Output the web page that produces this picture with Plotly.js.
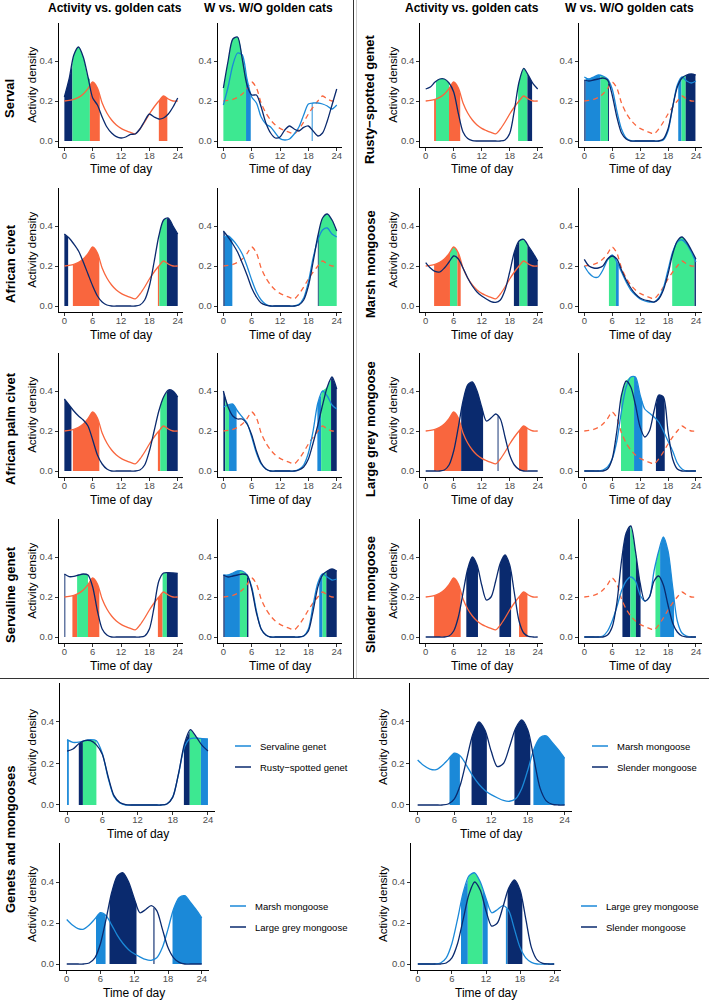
<!DOCTYPE html>
<html>
<head>
<meta charset="utf-8">
<script src="https://cdn.plot.ly/plotly-3.0.1.min.js"></script>
<style>
  body { margin: 0; background: #fff; }
  #chart { width: 709px; height: 1000px; }
</style>
</head>
<body>
<div id="chart"></div>
<script>
// Hour of day for every density value below
const hours = [0, 1, 2, 3, 4, 5, 6, 7, 8, 9, 10, 11, 12, 13, 14, 15, 16, 17, 18, 19, 20, 21, 22, 23, 24];
const xTicks = [0, 6, 12, 18, 24];
const yTicks = [0, 0.2, 0.4];
const yTickText = ['0.0', '0.2', '0.4'];

// Golden cat activity (orange curve, same in every panel)
const goldenCat = [0.200, 0.203, 0.208, 0.218, 0.235, 0.262, 0.295, 0.265, 0.19, 0.14, 0.105, 0.08, 0.063, 0.052, 0.043, 0.036, 0.06, 0.095, 0.135, 0.17, 0.2, 0.225, 0.21, 0.2, 0.2];

// Each species: overall activity, with golden cats (W), without golden cats (W/O)
const servalAll = [0.22, 0.31, 0.43, 0.47, 0.42, 0.32, 0.215, 0.18, 0.12, 0.07, 0.04, 0.022, 0.015, 0.02, 0.033, 0.035, 0.06, 0.1, 0.135, 0.12, 0.11, 0.115, 0.135, 0.17, 0.215];
const servalW = [0.265, 0.4, 0.51, 0.52, 0.41, 0.28, 0.23, 0.23, 0.17, 0.09, 0.04, 0.015, 0.02, 0.055, 0.075, 0.06, 0.05, 0.068, 0.075, 0.05, 0.025, 0.04, 0.1, 0.18, 0.26];
const servalWO = [0.18, 0.27, 0.38, 0.44, 0.43, 0.31, 0.22, 0.19, 0.12, 0.085, 0.07, 0.04, 0.012, 0.005, 0.01, 0.035, 0.07, 0.13, 0.185, 0.19, 0.19, 0.185, 0.175, 0.16, 0.18];

const civetAll = [0.36, 0.34, 0.31, 0.275, 0.22, 0.16, 0.1, 0.05, 0.02, 0.005, 0, 0, 0, 0, 0, 0, 0.005, 0.03, 0.1, 0.22, 0.35, 0.43, 0.44, 0.4, 0.36];
const civetW = [0.375, 0.345, 0.31, 0.27, 0.215, 0.155, 0.09, 0.045, 0.015, 0.004, 0, 0, 0, 0, 0, 0, 0.005, 0.03, 0.1, 0.22, 0.35, 0.44, 0.46, 0.43, 0.375];
const civetWO = [0.345, 0.35, 0.33, 0.3, 0.26, 0.2, 0.13, 0.07, 0.03, 0.008, 0, 0, 0, 0, 0, 0, 0.008, 0.04, 0.12, 0.24, 0.33, 0.38, 0.39, 0.36, 0.345];

const palmAll = [0.36, 0.33, 0.3, 0.275, 0.255, 0.225, 0.155, 0.08, 0.035, 0.01, 0, 0, 0, 0, 0, 0, 0.005, 0.03, 0.1, 0.2, 0.3, 0.37, 0.405, 0.4, 0.37];
const palmW = [0.4, 0.32, 0.275, 0.26, 0.26, 0.235, 0.18, 0.1, 0.04, 0.01, 0, 0, 0, 0, 0, 0, 0.005, 0.02, 0.06, 0.14, 0.23, 0.33, 0.42, 0.47, 0.41];
const palmWO = [0.32, 0.33, 0.335, 0.3, 0.27, 0.24, 0.17, 0.09, 0.035, 0.01, 0, 0, 0, 0, 0, 0, 0.008, 0.03, 0.09, 0.2, 0.34, 0.4, 0.375, 0.33, 0.31];

const servalineAll = [0.315, 0.302, 0.303, 0.31, 0.315, 0.31, 0.25, 0.13, 0.04, 0.01, 0, 0, 0, 0, 0, 0, 0, 0.005, 0.04, 0.15, 0.28, 0.32, 0.322, 0.32, 0.318];
const servalineW = [0.31, 0.3, 0.305, 0.31, 0.315, 0.31, 0.24, 0.12, 0.04, 0.01, 0, 0, 0, 0, 0, 0, 0, 0.005, 0.03, 0.13, 0.25, 0.31, 0.33, 0.34, 0.33];
const servalineWO = [0.31, 0.31, 0.32, 0.33, 0.33, 0.31, 0.25, 0.13, 0.04, 0.01, 0, 0, 0, 0, 0, 0, 0, 0.005, 0.04, 0.16, 0.27, 0.315, 0.3, 0.285, 0.29];

const rustyAll = [0.26, 0.27, 0.295, 0.31, 0.31, 0.29, 0.245, 0.137, 0.045, 0.012, 0.002, 0, 0, 0, 0, 0, 0, 0.005, 0.037, 0.153, 0.295, 0.363, 0.328, 0.287, 0.26];
const rustyW = [0.305, 0.3, 0.305, 0.31, 0.315, 0.305, 0.23, 0.12, 0.04, 0.01, 0, 0, 0, 0, 0, 0, 0, 0.01, 0.06, 0.17, 0.27, 0.315, 0.33, 0.335, 0.33];
const rustyWO = [0.32, 0.31, 0.32, 0.33, 0.325, 0.31, 0.26, 0.15, 0.06, 0.015, 0.002, 0, 0, 0, 0, 0, 0, 0.005, 0.05, 0.17, 0.28, 0.32, 0.3, 0.29, 0.3];

const marshAll = [0.217, 0.19, 0.173, 0.17, 0.19, 0.22, 0.25, 0.235, 0.19, 0.14, 0.1, 0.07, 0.05, 0.035, 0.022, 0.018, 0.03, 0.08, 0.17, 0.27, 0.325, 0.333, 0.3, 0.265, 0.225];
const marshW = [0.233, 0.2, 0.19, 0.19, 0.2, 0.235, 0.25, 0.235, 0.18, 0.13, 0.09, 0.06, 0.04, 0.03, 0.025, 0.02, 0.035, 0.08, 0.16, 0.26, 0.325, 0.345, 0.32, 0.28, 0.235];
const marshWO = [0.2, 0.165, 0.145, 0.145, 0.18, 0.23, 0.255, 0.22, 0.17, 0.12, 0.08, 0.055, 0.035, 0.025, 0.02, 0.02, 0.04, 0.09, 0.18, 0.27, 0.32, 0.33, 0.31, 0.27, 0.22];

const largeGreyAll = [0, 0, 0, 0, 0.005, 0.03, 0.1, 0.22, 0.35, 0.43, 0.445, 0.4, 0.32, 0.25, 0.265, 0.285, 0.26, 0.17, 0.08, 0.03, 0.008, 0, 0, 0, 0];
const largeGreyW = [0, 0, 0, 0, 0, 0.01, 0.06, 0.2, 0.38, 0.45, 0.42, 0.33, 0.22, 0.17, 0.2, 0.3, 0.38, 0.37, 0.2, 0.06, 0.01, 0, 0, 0, 0];
const largeGreyWO = [0, 0, 0, 0, 0.005, 0.02, 0.06, 0.15, 0.3, 0.42, 0.47, 0.47, 0.38, 0.31, 0.29, 0.27, 0.245, 0.2, 0.15, 0.1, 0.04, 0.01, 0, 0, 0];

const slenderAll = [0, 0, 0, 0, 0, 0.005, 0.03, 0.1, 0.22, 0.34, 0.4, 0.36, 0.26, 0.185, 0.2, 0.28, 0.37, 0.41, 0.36, 0.22, 0.08, 0.02, 0.003, 0, 0];
const slenderW = [0, 0, 0, 0, 0, 0.01, 0.05, 0.17, 0.38, 0.52, 0.555, 0.43, 0.27, 0.18, 0.2, 0.28, 0.305, 0.26, 0.16, 0.07, 0.025, 0.005, 0, 0, 0];
const slenderWO = [0, 0, 0, 0, 0.005, 0.03, 0.08, 0.15, 0.23, 0.28, 0.3, 0.28, 0.21, 0.18, 0.2, 0.33, 0.43, 0.5, 0.43, 0.25, 0.08, 0.02, 0.005, 0, 0];

// Peak activity periods: [start hour, end hour, group]
// sp = species, gc = golden cat, w / wo = with / without golden cats, a / b = pair species, both = overlap
const servalVsGc = [[0, 1.7, 'sp'], [1.7, 5.4, 'both'], [5.4, 7.5, 'gc'], [20, 21.8, 'gc']];
const servalWvsWO = [[0, 4.8, 'both'], [4.8, 5.8, 'wo'], [18.7, 18.9, 'wo']];
const civetVsGc = [[0, 0.8, 'sp'], [1.8, 7.4, 'gc'], [19.8, 20.1, 'gc'], [20.1, 21.7, 'both'], [21.7, 24, 'sp']];
const civetWvsWO = [[0, 0.3, 'w'], [0.3, 1.9, 'wo'], [20, 20.2, 'w'], [20.2, 24, 'both']];
const palmVsGc = [[0, 1.5, 'sp'], [1.8, 7.4, 'gc'], [19.8, 20.3, 'gc'], [20.3, 21.7, 'both'], [21.7, 24, 'sp']];
const palmWvsWO = [[0, 0.4, 'w'], [0.4, 1.2, 'both'], [1.2, 2.8, 'wo'], [19.9, 20.7, 'wo'], [20.7, 22.8, 'both'], [22.8, 24, 'w']];
const servalineVsGc = [[0, 0.2, 'sp'], [1.7, 2.7, 'gc'], [2.7, 5, 'both'], [5, 7.4, 'gc'], [19.8, 20.8, 'gc'], [20.8, 21.7, 'both'], [21.7, 24, 'sp']];
const servalineWvsWO = [[0, 0.3, 'w'], [0.3, 3.5, 'wo'], [3.5, 5, 'both'], [5, 5.3, 'w'], [20.3, 21, 'wo'], [21, 21.8, 'both'], [21.8, 24, 'w']];
const rustyVsGc = [[1.8, 2.2, 'gc'], [2.2, 5, 'both'], [5, 7.4, 'gc'], [19.8, 21.8, 'both'], [21.8, 22.8, 'sp']];
const rustyWvsWO = [[0, 0.3, 'w'], [0.3, 3.5, 'wo'], [3.5, 5.1, 'both'], [5.1, 5.3, 'w'], [20.2, 20.9, 'wo'], [20.9, 21.8, 'both'], [21.8, 23.9, 'w']];
const marshVsGc = [[1.8, 5.2, 'gc'], [5.2, 6.8, 'both'], [6.8, 7.5, 'gc'], [18.9, 20.1, 'sp'], [20.1, 21.8, 'both'], [21.8, 24, 'sp']];
const marshWvsWO = [[5.3, 6.8, 'both'], [6.8, 7.4, 'wo'], [18.9, 23.7, 'both'], [23.7, 24, 'w']];
const largeGreyVsGc = [[1.8, 7.6, 'gc'], [7.6, 12.3, 'sp'], [15.4, 15.6, 'sp'], [20, 21.8, 'gc']];
const largeGreyWvsWO = [[7.9, 10.7, 'both'], [10.7, 12.5, 'wo'], [15.4, 17.3, 'w']];
const slenderVsGc = [[1.8, 7.5, 'gc'], [8.7, 11.2, 'sp'], [15.8, 18.3, 'sp'], [20, 21.8, 'gc']];
const slenderWvsWO = [[8.2, 9.9, 'w'], [9.9, 11.1, 'both'], [11.1, 12.1, 'w'], [15.3, 16.3, 'both'], [16.3, 19.3, 'wo']];
const genetsPair = [[0, 0.3, 'a'], [2, 2.7, 'b'], [2.7, 5, 'both'], [19.9, 20.9, 'b'], [20.9, 22.8, 'both'], [22.8, 24, 'a']];
const marshSlenderPair = [[5.2, 6.9, 'a'], [8.8, 11.3, 'b'], [15.8, 18.4, 'b'], [18.9, 24, 'a']];
const marshLargeGreyPair = [[5.2, 6.9, 'a'], [7.6, 12.4, 'b'], [15.4, 15.6, 'b'], [18.8, 24, 'a']];
const largeGreySlenderPair = [[7.6, 8.8, 'a'], [8.8, 11.4, 'both'], [11.4, 12.3, 'a'], [15.5, 15.8, 'a'], [15.8, 18.4, 'b']];

// Labels
const columnTitles = ['Activity vs. golden cats', 'W vs. W/O golden cats'];
const leftSpecies = ['Serval', 'African civet', 'African palm civet', 'Servaline genet'];
const rightSpecies = ['Rusty\u2212spotted genet', 'Marsh mongoose', 'Large grey mongoose', 'Slender mongoose'];
const pairTitle = 'Genets and mongooses';
const pairLegends = [
    ['Servaline genet', 'Rusty\u2212spotted genet'],
    ['Marsh mongoose', 'Slender mongoose'],
    ['Marsh mongoose', 'Large grey mongoose'],
    ['Large grey mongoose', 'Slender mongoose']
];

// ---------- drawing ----------
const W = 709, H = 1000;
const NAVY = '#0a2a6e', GREEN = '#3de891', BLUE = '#1b89d8', ORANGE = '#f9663e';
const FONT = 'Liberation Sans, Arial, sans-serif';

const traces = [];
const layout = {
    width: W, height: H,
    margin: { l: 0, r: 0, t: 0, b: 0 },
    showlegend: false,
    paper_bgcolor: '#fff',
    plot_bgcolor: 'rgba(0,0,0,0)',
    font: { family: FONT },
    annotations: [],
    shapes: []
};

const px = x => x / W;
const py = y => 1 - y / H;

function valueAt(ys, x) {
    const i = Math.min(Math.floor(x), 23);
    const t = x - i;
    return ys[i] * (1 - t) + ys[i + 1] * t;
}

function maxOf(a, b) {
    return a.map((v, i) => Math.max(v, b[i]));
}

function text(str, x, y, size, opts = {}) {
    layout.annotations.push(Object.assign({
        xref: 'paper', yref: 'paper', x: px(x), y: py(y),
        text: str, showarrow: false,
        xanchor: 'center', yanchor: 'middle',
        font: { family: FONT, size: size, color: '#000' }
    }, opts));
}

let n = 0;
// box: left/right px of plot area, zero = px of y=0, s = px per density unit
function addPanel(box, lines, groups, shades) {
    n += 1;
    const sfx = n === 1 ? '' : String(n);
    const top = box.zero - 0.59 * box.s;
    const bottom = box.zero + 0.028 * box.s;
    const common = {
        showline: true, linecolor: '#000', linewidth: 1,
        ticks: 'outside', ticklen: 3, tickcolor: '#333', tickwidth: 1,
        tickfont: { family: FONT, size: 9.5, color: '#4d4d4d' },
        showgrid: false, zeroline: false, fixedrange: true, automargin: false
    };
    layout['xaxis' + sfx] = Object.assign({
        domain: [px(box.left), px(box.right)],
        range: [-1.2, 25.2],
        anchor: 'y' + sfx,
        tickvals: xTicks,
        ticklabelstandoff: -3
    }, common);
    layout['yaxis' + sfx] = Object.assign({
        domain: [py(bottom), py(top)],
        range: [-0.028, 0.59],
        anchor: 'x' + sfx,
        tickvals: yTicks, ticktext: yTickText
    }, common);

    shades.forEach(([x0, x1, g]) => {
        const grp = groups[g];
        const xs = [x0], vs = [valueAt(grp.y, x0)];
        hours.forEach((h, i) => {
            if (h > x0 && h < x1) { xs.push(h); vs.push(grp.y[i]); }
        });
        xs.push(x1); vs.push(valueAt(grp.y, x1));
        traces.push({
            x: xs, y: vs, type: 'scatter', mode: 'lines',
            fill: 'tozeroy', fillcolor: grp.color,
            line: { width: 0, shape: 'spline', smoothing: 0.8 },
            xaxis: 'x' + sfx, yaxis: 'y' + sfx, hoverinfo: 'skip'
        });
    });

    lines.forEach(l => {
        traces.push({
            x: hours, y: l.y, type: 'scatter', mode: 'lines',
            line: { color: l.color, width: 1.3, dash: l.dash || 'solid', shape: 'spline', smoothing: 0.8 },
            xaxis: 'x' + sfx, yaxis: 'y' + sfx, hoverinfo: 'skip'
        });
    });

    text('Time of day', (box.left + box.right) / 2, box.zero + 28.5, 12);
    return { top, bottom };
}

function vsGoldenPanel(box, sp, shades) {
    return addPanel(box,
        [{ y: goldenCat, color: ORANGE }, { y: sp, color: NAVY }],
        { sp: { y: sp, color: NAVY }, gc: { y: goldenCat, color: ORANGE }, both: { y: maxOf(sp, goldenCat), color: GREEN } },
        shades);
}

function withWithoutPanel(box, w, wo, shades) {
    return addPanel(box,
        [{ y: goldenCat, color: ORANGE, dash: '5px,4px' }, { y: wo, color: BLUE }, { y: w, color: NAVY }],
        { w: { y: w, color: NAVY }, wo: { y: wo, color: BLUE }, both: { y: maxOf(w, wo), color: GREEN } },
        shades);
}

function pairPanel(box, a, b, shades, names, legendX, legendY) {
    addPanel(box,
        [{ y: a, color: BLUE }, { y: b, color: NAVY }],
        { a: { y: a, color: BLUE }, b: { y: b, color: NAVY }, both: { y: maxOf(a, b), color: GREEN } },
        shades);
    [BLUE, NAVY].forEach((c, i) => {
        const y = legendY + i * 21;
        layout.shapes.push({
            type: 'line', xref: 'paper', yref: 'paper',
            x0: px(legendX), x1: px(legendX + 16), y0: py(y), y1: py(y),
            line: { color: c, width: 1.5 }
        });
        text(names[i], legendX + 23, y, 9.5, { xanchor: 'left' });
    });
}

// top section: 4 rows x (2 blocks x 2 columns)
const rowZero = [141, 306, 471, 637];
const leftCols = [{ left: 58.7, right: 183.4 }, { left: 217.7, right: 342.4 }];
const rightCols = [{ left: 420.1, right: 543.3 }, { left: 578.7, right: 701.5 }];

const leftRows = [
    [servalAll, servalW, servalWO, servalVsGc, servalWvsWO],
    [civetAll, civetW, civetWO, civetVsGc, civetWvsWO],
    [palmAll, palmW, palmWO, palmVsGc, palmWvsWO],
    [servalineAll, servalineW, servalineWO, servalineVsGc, servalineWvsWO]
];
const rightRows = [
    [rustyAll, rustyW, rustyWO, rustyVsGc, rustyWvsWO],
    [marshAll, marshW, marshWO, marshVsGc, marshWvsWO],
    [largeGreyAll, largeGreyW, largeGreyWO, largeGreyVsGc, largeGreyWvsWO],
    [slenderAll, slenderW, slenderWO, slenderVsGc, slenderWvsWO]
];

[[leftRows, leftCols, leftSpecies, 10, 32], [rightRows, rightCols, rightSpecies, 370, 393]].forEach(([rows, cols, names, labelX, titleX]) => {
    rows.forEach((r, i) => {
        const zero = rowZero[i];
        const b1 = vsGoldenPanel({ left: cols[0].left, right: cols[0].right, zero, s: 200 }, r[0], r[3]);
        withWithoutPanel({ left: cols[1].left, right: cols[1].right, zero, s: 200 }, r[1], r[2], r[4]);
        const mid = (b1.top + b1.bottom) / 2;
        text('Activity density', titleX, mid, 11.5, { textangle: -90 });
        text('<b>' + names[i] + '</b>', labelX, zero - 42, 13, { textangle: -90 });
    });
});

text('<b>' + columnTitles[0] + '</b>', 115, 8, 12);
text('<b>' + columnTitles[1] + '</b>', 268, 8, 12);
text('<b>' + columnTitles[0] + '</b>', 472, 8, 12);
text('<b>' + columnTitles[1] + '</b>', 629, 8, 12);

// bottom section: species pairs
pairPanel({ left: 60, right: 215, zero: 805, s: 207.5 }, servalineAll, rustyAll, genetsPair, pairLegends[0], 235, 746);
pairPanel({ left: 410.3, right: 572, zero: 805, s: 207.5 }, marshAll, slenderAll, marshSlenderPair, pairLegends[1], 592, 746);
pairPanel({ left: 60, right: 208.5, zero: 964, s: 205 }, marshAll, largeGreyAll, marshLargeGreyPair, pairLegends[2], 230, 906);
pairPanel({ left: 411, right: 561, zero: 964, s: 205 }, largeGreyAll, slenderAll, largeGreySlenderPair, pairLegends[3], 581, 906);

text('Activity density', 32, 747, 11.5, { textangle: -90 });
text('Activity density', 32, 904, 11.5, { textangle: -90 });
text('Activity density', 383, 747, 11.5, { textangle: -90 });
text('Activity density', 383, 904, 11.5, { textangle: -90 });
text('<b>' + pairTitle + '</b>', 10, 840, 13, { textangle: -90 });

// block borders
layout.shapes.push(
    { type: 'line', xref: 'paper', yref: 'paper', x0: px(353.5), x1: px(353.5), y0: py(0), y1: py(678.5), line: { color: '#333', width: 1 } },
    { type: 'line', xref: 'paper', yref: 'paper', x0: px(356.5), x1: px(356.5), y0: py(0), y1: py(678.5), line: { color: '#ccc', width: 1 } },
    { type: 'line', xref: 'paper', yref: 'paper', x0: 0, x1: 1, y0: py(678.5), y1: py(678.5), line: { color: '#333', width: 1 } }
);

Plotly.newPlot('chart', traces, layout, { staticPlot: true });
</script>
</body>
</html>
